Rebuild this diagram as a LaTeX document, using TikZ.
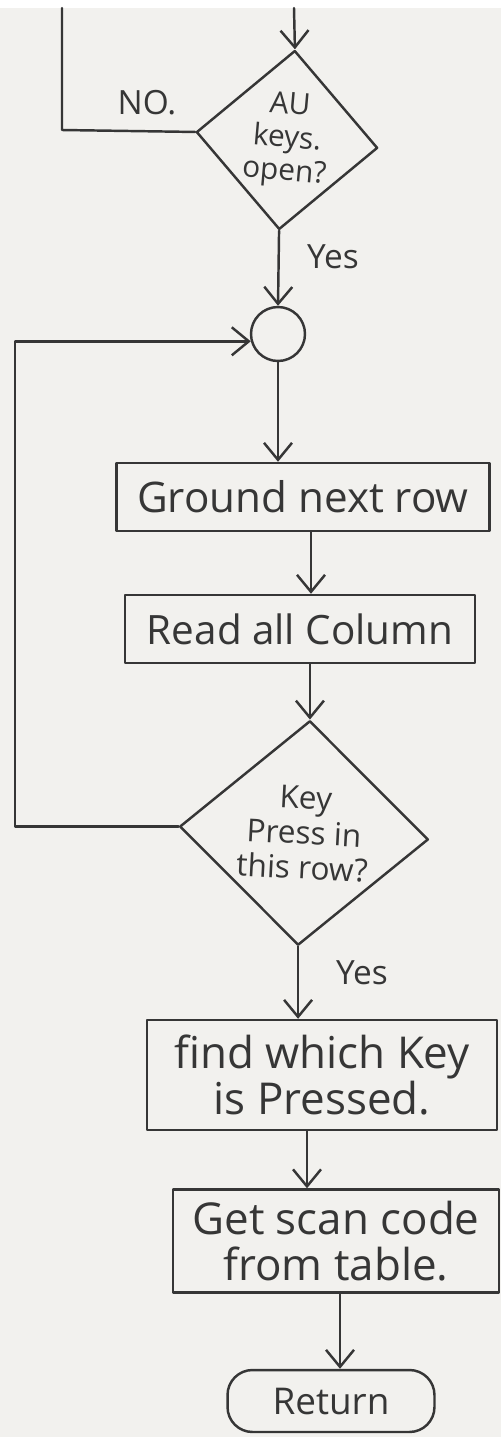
\documentclass[tikz,border=0pt]{standalone}
\usepackage{fontspec}
\setmainfont{Open Sans}
\usetikzlibrary{shapes.geometric,arrows.meta,calc}
\definecolor{paper}{HTML}{F2F1EE}
\definecolor{ink}{HTML}{363636}
\tikzset{
  ink line/.style={draw=ink, line width=1.4pt, line cap=round, line join=round},
  arr/.style={ink line, -{Straight Barb[length=0.34cm,width=0.56cm,line width=1.4pt]}},
  stepbox/.style={ink line, rectangle, inner sep=0pt, align=center, text=ink,
                  font=\fontsize{23}{27}\selectfont},
  decision/.style={ink line, diamond, inner sep=0pt, align=center, text=ink,
                   font=\fontsize{17}{19}\selectfont},
  joint/.style={ink line, circle, inner sep=0pt, minimum size=1.08cm},
  terminal/.style={ink line, rectangle, rounded corners=0.5cm, inner sep=0pt,
                   text=ink, font=\fontsize{21}{24}\selectfont},
  tag/.style={text=ink, inner sep=0pt, font=\fontsize{19}{21}\selectfont},
}
\begin{document}
\begin{tikzpicture}[x=0.02cm, y=-0.02cm]
  % paper
  \useasboundingbox (0,0) rectangle (501,1437);
  \fill[white] (0,0) rectangle (501,8);
  \fill[paper] (0,8) rectangle (501,1437);

  % incoming ends at the top of the sheet
  \coordinate (topIn)  at (294,8);
  \coordinate (topOut) at (62,8);
  \coordinate (noCorner) at (62,130);
  \coordinate (loopL) at (15,830);

  % blocks
  \node[decision, minimum width=3.64cm, minimum height=3.44cm, rotate=-5]
       (d1) at (287,140) {AU\\keys.\\open?};
  \node[joint] (circ) at (278,334) {};
  \node[stepbox, minimum width=7.46cm, minimum height=1.36cm,
        font=\fontsize{24}{27}\selectfont]
       (b1) at (303,497) {Ground next row};
  \node[stepbox, minimum width=7.0cm, minimum height=1.36cm]
       (b2) at (300,629) {Read all Column};
  \node[decision, minimum width=4.98cm, minimum height=4.4cm, rotate=-3,
        font=\fontsize{18}{20}\selectfont]
       (d2) at (304,833) {Key\\Press in\\this row?};
  \node[stepbox, minimum width=7.0cm, minimum height=2.2cm,
        font=\fontsize{25}{26}\selectfont]
       (b3) at (322,1075) {find which Key\\is Pressed.};
  \node[stepbox, minimum width=6.52cm, minimum height=2.06cm,
        font=\fontsize{25}{26}\selectfont]
       (b4) at (336,1241) {Get scan code\\from table.};
  \node[terminal, minimum width=4.14cm, minimum height=1.24cm]
       (ret) at (331,1401) {Return};

  % branch labels
  \node[tag] (lno)   at (147,103) {NO.};
  \node[tag] (lyes1) at (333,257) {Yes};
  \node[tag] (lyes2) at (362,973) {Yes};

  % connectors
  \draw[arr] (topIn) -- (d1.north);
  \draw[ink line] (d1.west) -- (noCorner) -- (topOut);
  \draw[arr] (d1.south) -- (circ.north);
  \draw[arr] (circ.south) -- (circ.south |- b1.north);
  \draw[arr] ($(b1.south)+(8,0)$) coordinate (s1) -- (s1 |- b2.north);
  \draw[arr] (b2.south -| d2.north) -- (d2.north);
  \draw[arr] (d2.west) -- (d2.west -| loopL) |- (circ.195);
  \draw[arr] (d2.south) -- (d2.south |- b3.north);
  \draw[arr] ($(b3.south)+(-15,0)$) coordinate (s3) -- (s3 |- b4.north);
  \draw[arr] ($(b4.south)+(4,0)$) coordinate (s4) -- (s4 |- ret.north);
\end{tikzpicture}
\end{document}
